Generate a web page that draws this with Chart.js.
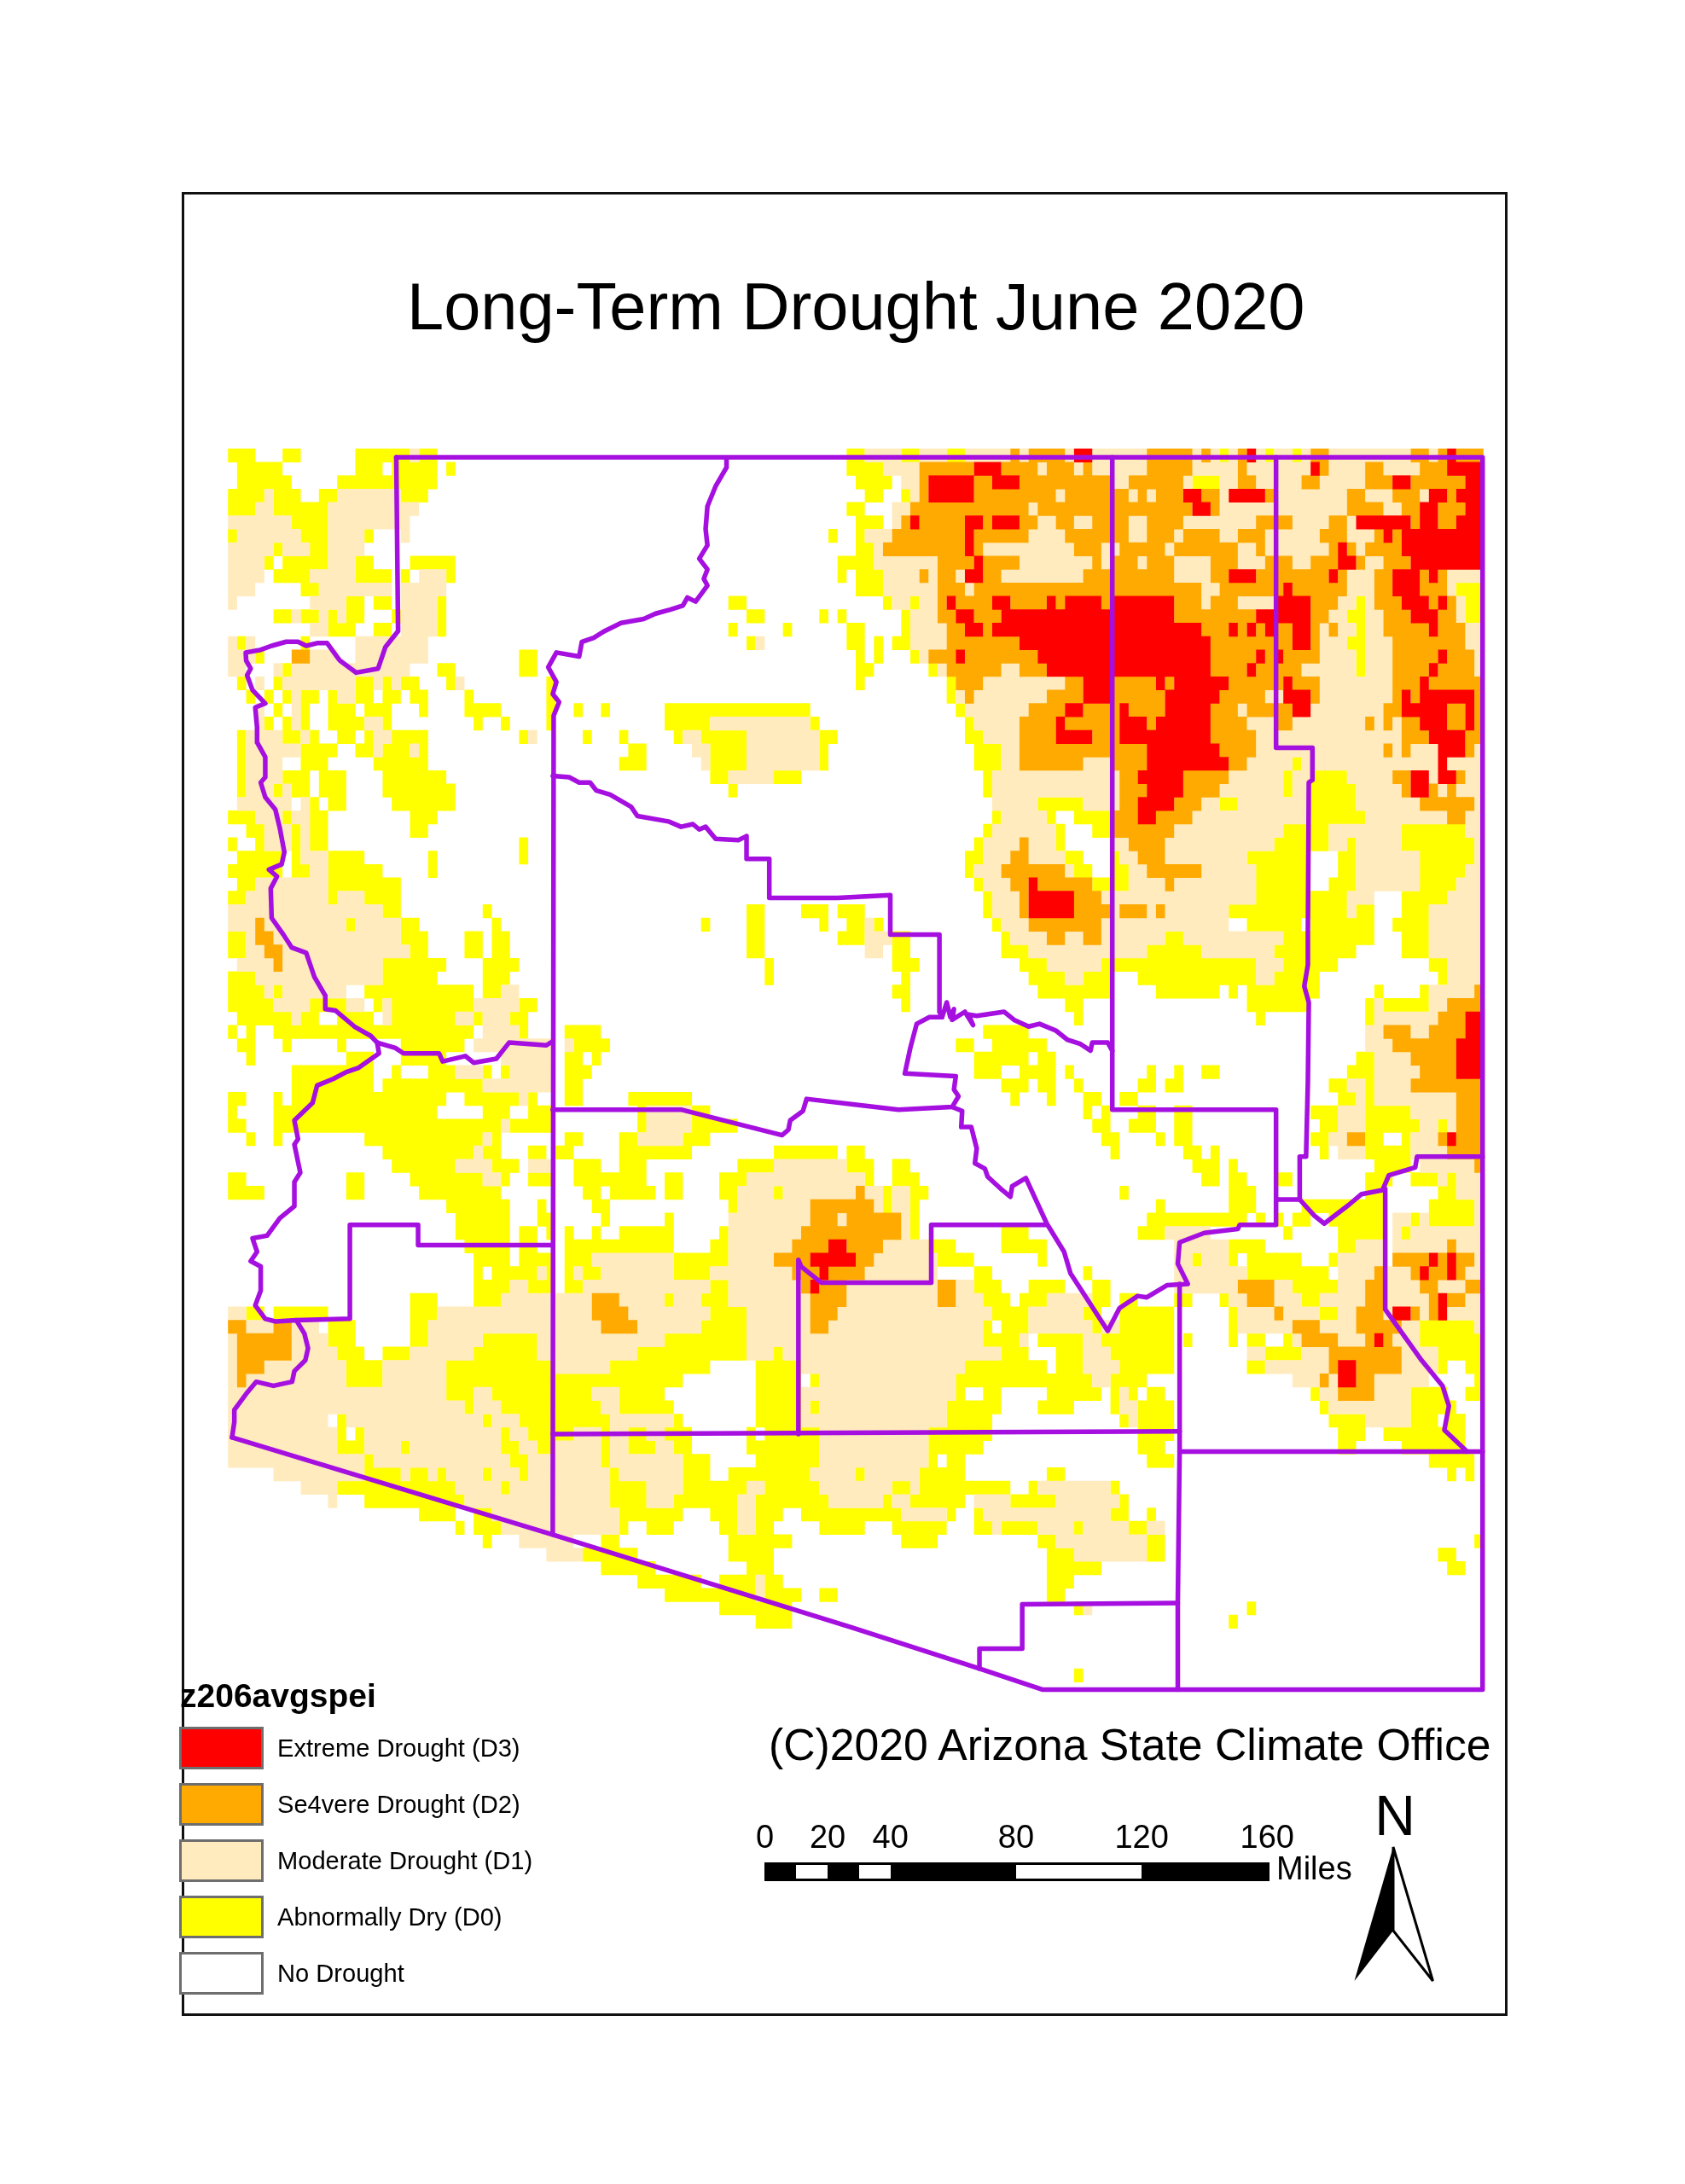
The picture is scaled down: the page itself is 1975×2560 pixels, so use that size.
<!DOCTYPE html>
<html>
<head>
<meta charset="utf-8">
<title>Long-Term Drought June 2020</title>
<script src="https://cdn.jsdelivr.net/npm/chart.js@4"></script>
<style>
    html, body { margin: 0; padding: 0; background: #fff; }
    #page { position: relative; width: 1975px; height: 2560px; overflow: hidden; font-family: "Liberation Sans", Arial, sans-serif; color: #000; }
    #map { position: absolute; left: 0; top: 0; }
    #frame { position: absolute; left: 213px; top: 225px; width: 1548px; height: 2132px; border: 3px solid #111; }
    .txt { position: absolute; white-space: nowrap; line-height: 1; }
    .box { position: absolute; box-sizing: border-box; }
    #arrow { position: absolute; left: 0; top: 0; }
</style>
</head>
<body>
<div id="page">
    <canvas id="map" width="1975" height="2560"></canvas>
    <div id="frame"></div>
    <svg id="arrow" width="1975" height="2560"></svg>
</div>
<script>
// raster runs per row: letter = class, a-b = grid columns, later runs overwrite earlier ones
const droughtRows = [
'Y0-3 Y6-8 Y14-20 M20-21 Y21-23 Y68-70 M70-74 Y74-76 M76-79 Y79-81 M81-86 S86-87 M87-88 S88-92 M92-93 X93-95 M95-101 S101-106 M106-107 S107-108 M108-109 Y109-110 M110-111 S111-112 X112-113 M113-114 Y114-115 M115-117 Y117-118 M118-119 S119-121 M121-130 S130-132 M132-133 S133-134 X134-135 S135-138',
'Y1-6 Y14-17 Y18-23 Y24-25 Y68-72 M72-76 S76-82 X82-85 S85-89 M89-90 S90-93 M93-94 S94-95 M95-101 S101-106 M106-111 S111-112 M112-119 X119-120 S120-121 M121-125 S125-127 M127-131 S131-134 X134-138',
'Y1-7 Y12-23 Y69-73 M74-76 S76-77 X77-82 S82-84 X84-87 S87-97 M97-99 S99-105 M105-106 Y106-109 M109-111 S111-113 M113-118 S118-120 M120-125 S125-128 X128-130 S130-136 X136-138',
'Y0-4 M4-5 Y5-8 Y10-12 M12-19 Y19-22 Y70-72 Y74-75 M75-76 S76-77 X77-82 S82-91 M91-92 S92-99 M99-100 S100-101 M101-102 S102-105 X105-107 S107-109 M109-110 X110-114 S114-115 M115-123 S123-125 M125-128 S128-131 M131-132 X132-134 S134-135 X135-138',
'Y0-3 M3-5 Y5-11 M11-21 Y68-70 M73-75 S75-88 M88-89 S89-106 X106-108 S108-109 M109-123 S123-127 M127-129 S129-131 X131-133 S133-136 X136-138',
'M0-7 Y7-11 M11-20 Y69-72 M73-74 S74-75 X75-76 S76-81 X81-83 S83-84 X84-87 S87-89 M89-91 S91-93 M93-95 S95-99 M99-101 S101-105 M105-113 S113-117 M117-121 S121-123 M123-124 X124-130 S130-131 X131-133 S133-135 X135-138',
'Y0-1 M1-8 Y8-11 M11-15 Y15-16 M19-20 Y66-67 Y69-70 M70-73 S73-81 X81-82 S82-88 M88-92 S92-99 M99-101 S101-104 M104-105 S105-109 M109-111 S111-114 M114-120 S120-123 M123-126 S126-127 X127-128 S128-129 X129-138',
'M0-5 Y5-6 M6-9 Y9-11 M11-15 Y69-71 M71-72 S72-81 X81-82 S82-83 M83-93 S93-96 M96-98 S98-103 M103-104 S104-111 M111-113 S113-114 M114-121 S121-122 X122-123 S123-124 M124-125 S125-129 X129-138',
'M0-4 Y4-5 Y6-11 M11-14 Y14-16 Y20-25 Y67-71 M71-78 S78-82 X82-83 S83-87 M87-95 S95-96 M96-97 S97-100 M100-101 S101-104 M104-108 S108-111 M111-114 S114-117 M117-119 S119-122 X122-124 S124-125 M125-127 S127-130 X130-138',
'M0-4 Y5-9 M9-14 Y14-18 Y19-20 M21-24 Y24-25 Y67-68 Y69-72 M72-76 S76-77 M77-78 S78-80 M80-81 X81-83 S83-85 M85-94 S94-104 M104-108 S108-110 X110-113 S113-121 X121-122 S122-123 M123-126 S126-128 X128-131 S131-132 X132-133 S133-134 M134-138',
'M0-3 Y8-10 M10-18 M19-24 Y69-72 M72-78 S78-81 M81-82 S82-107 M107-109 S109-116 X116-117 S117-123 M123-126 S126-128 X128-131 S131-134 M134-135 Y135-138',
'M0-1 M9-13 Y13-15 Y16-18 M19-23 Y23-24 Y55-57 Y72-73 M73-75 Y75-76 M76-78 S78-79 X79-80 S80-84 X84-86 S86-90 X90-91 S91-92 X92-96 S96-97 X97-104 S104-107 M107-108 S108-111 M111-115 X115-119 S119-122 M122-124 Y124-125 M125-126 S126-129 X129-132 S132-133 X133-134 S134-135 M135-136 Y136-138',
'Y5-7 M7-8 Y8-10 M10-11 Y11-12 M12-13 Y13-15 Y18-19 M19-23 Y23-24 Y57-59 Y65-66 Y67-68 Y74-75 M75-78 S78-80 X80-82 S82-85 X85-104 S104-113 X113-119 S119-121 M121-123 Y123-125 M125-127 S127-130 X130-133 S133-135 M135-136 Y136-138',
'M9-11 Y11-14 Y16-18 M19-23 Y23-24 Y55-56 Y61-62 Y68-70 Y74-75 M75-79 S79-81 X81-83 S83-84 X84-107 S107-110 X110-111 S111-112 X112-113 S113-114 X114-115 S115-117 X117-119 S119-120 M120-121 S121-122 M122-124 Y124-125 M125-127 S127-132 X132-133 S133-136 M136-138',
'M0-3 Y1-2 Y8-9 M14-22 Y57-58 M58-59 Y68-70 Y71-72 Y73-75 M75-79 S79-87 X87-108 S108-117 X117-119 S119-120 M120-123 Y123-125 M125-128 S128-136 M136-138',
'M0-3 Y3-4 S7-9 M9-12 M14-22 Y32-34 Y69-70 Y71-72 Y75-76 M76-77 S77-80 X80-81 S81-89 X89-108 S108-113 X113-114 S114-115 X115-116 S116-120 M120-124 Y124-125 M125-128 S128-133 X133-134 S134-137 M137-138',
'M0-2 M5-6 Y6-7 M7-20 Y23-25 Y32-34 Y69-71 Y77-78 M78-79 S79-85 M85-87 S87-90 X90-108 S108-112 X112-113 S113-118 M118-124 Y124-125 M125-128 S128-132 X132-133 S133-137 M137-138',
'Y1-2 M3-4 Y5-6 M6-14 Y14-16 M16-17 Y17-18 M18-19 Y19-21 Y24-25 M25-26 Y35-36 Y69-70 Y79-80 S80-83 M83-92 S92-94 X94-97 S97-102 X102-103 S103-104 X104-110 S110-116 X116-117 S117-120 M120-128 S128-131 X131-132 S132-138',
'Y2-3 Y4-5 Y6-7 M7-8 Y8-10 Y11-12 M12-14 Y14-16 Y17-19 Y20-22 Y26-27 Y35-36 Y79-80 M80-81 S81-82 M82-90 S90-94 X94-97 S97-103 X103-109 S109-114 M114-116 X116-119 S119-120 M120-128 S128-129 X129-130 S130-131 X131-137 S137-138',
'M3-4 Y5-6 M7-8 Y8-9 Y11-14 Y15-18 Y21-22 Y26-30 Y35-36 Y38-39 Y41-42 Y48-64 Y80-81 M81-88 S88-92 X92-94 S94-98 X98-99 S99-103 X103-108 S108-111 M111-112 S112-117 X117-119 M119-127 S127-129 X129-134 S134-136 X136-137 S137-138',
'M3-4 Y4-5 Y6-7 M7-8 Y8-9 Y11-15 M15-17 Y17-18 Y27-28 Y30-31 Y35-36 Y48-53 M53-64 Y64-65 Y81-82 M82-87 S87-91 X91-92 S92-98 X98-101 S101-102 X102-108 S108-112 M112-115 S115-117 M117-125 S125-126 M126-127 S127-128 M128-129 S129-131 X131-134 S134-136 X136-137 S137-138',
'Y1-2 M2-6 Y6-8 M8-9 Y9-10 Y12-14 Y15-16 M16-18 Y18-22 Y32-33 M33-34 Y39-40 Y43-44 Y49-50 M50-52 Y52-57 M57-65 Y65-67 Y81-83 M83-87 S87-91 X91-95 S95-98 X98-108 S108-113 M113-129 S129-132 X132-136 S136-138',
'Y1-2 M2-8 Y8-12 Y14-16 M16-17 Y17-20 M20-21 Y21-22 Y44-46 M51-53 Y53-57 M57-65 Y65-66 Y82-85 M85-87 S87-101 X101-109 S109-113 M113-127 S127-128 M128-129 S129-130 M130-133 X133-136 S136-137 M137-138',
'Y1-2 M2-6 Y8-11 Y16-22 Y43-46 M52-53 Y53-57 M57-65 Y65-66 Y82-85 M85-87 S87-94 M94-97 S97-101 X101-110 S110-112 M112-117 Y117-118 M118-133 X133-134 M134-138',
'Y1-2 M2-6 Y6-9 Y10-13 Y17-24 Y53-55 M55-60 Y60-63 Y83-84 M84-98 S98-100 X100-105 S105-110 M110-116 Y116-117 M117-119 Y119-123 M123-128 S128-130 X130-132 M132-133 X133-135 S135-136 M136-138',
'Y1-2 M2-5 Y5-6 M6-7 Y7-9 Y10-13 Y17-25 Y55-56 Y83-84 M84-98 S98-101 X101-105 S105-109 M109-116 Y116-117 M117-119 Y119-124 M124-129 S129-130 X130-132 S132-133 M133-134 S134-135 M135-138',
'M1-7 M8-9 Y9-10 Y11-13 Y18-25 M84-89 Y89-94 M94-98 S98-100 X100-104 S104-107 M107-109 Y109-111 M111-119 Y119-124 M124-131 S131-137 M137-138',
'Y0-3 M3-6 Y6-7 M7-9 Y9-11 Y20-23 Y84-85 M85-90 Y90-91 Y93-97 S97-100 X100-102 S102-106 M106-119 Y119-125 M125-134 S134-136 M136-138',
'Y2-4 M4-7 Y7-8 M8-9 Y9-11 Y20-22 Y83-84 M84-91 Y91-92 Y95-97 S97-104 M104-116 Y116-121 M121-129 Y129-136 M136-138',
'Y0-1 Y3-4 M4-7 Y7-8 M8-9 Y9-11 Y32-33 Y82-83 M83-87 S87-88 M88-91 Y91-92 M97-99 S99-103 M103-115 Y115-121 M121-123 Y123-124 M124-129 Y129-137 M137-138',
'Y1-6 Y7-8 M8-11 Y11-15 Y22-23 Y32-33 Y81-83 M83-86 S86-88 M88-92 Y92-94 Y97-98 M98-100 S100-103 M103-112 Y112-119 Y122-124 M124-131 Y131-137 M137-138',
'Y0-6 Y7-9 M9-11 Y11-17 Y22-23 Y81-82 M82-85 S85-92 M92-93 Y93-95 Y97-99 M99-101 S101-107 M107-113 Y113-119 Y122-124 M124-131 Y131-136 M136-138',
'Y1-3 M3-11 Y11-19 Y82-83 M83-86 S86-88 X88-89 S89-95 Y95-99 M99-103 S103-104 M104-113 Y113-119 Y121-124 M124-131 Y131-135 M135-138',
'Y0-2 M2-15 Y11-12 Y15-19 Y83-84 M84-87 S87-88 X88-93 S93-96 M96-113 Y113-123 M123-126 Y129-134 M134-138',
'M0-18 Y17-19 Y28-29 Y57-59 Y63-66 Y67-70 Y83-84 M84-87 S87-97 X88-93 M97-98 S98-101 M101-102 S102-103 M103-110 Y110-123 M123-124 Y124-126 Y129-132 M132-138',
'M0-19 Y13-14 S3-4 Y19-21 Y29-30 Y52-53 Y57-59 Y65-66 Y68-70 M70-71 Y71-72 Y84-85 M85-88 S88-96 M96-110 Y112-118 Y119-126 Y128-132 M132-138',
'Y0-2 M2-4 S3-5 M5-19 Y19-22 Y26-28 Y29-31 Y57-59 Y67-70 M70-73 Y73-75 Y85-86 M86-90 S90-92 M92-94 S94-96 M96-103 Y103-105 M105-116 Y116-126 Y129-132 M132-138',
'Y0-2 M2-4 S4-6 M6-20 Y20-22 Y26-28 Y29-31 Y57-59 M70-72 Y73-75 Y85-88 M88-101 Y101-107 M107-115 Y115-124 Y129-132 M132-138',
'M1-5 S5-6 M6-17 Y17-24 Y28-32 Y59-60 Y73-76 Y87-90 M90-96 Y96-113 M113-116 Y116-122 Y132-134 M134-138',
'Y0-3 M3-17 Y17-23 Y28-31 Y59-60 Y74-75 Y88-92 M92-94 Y94-97 Y100-113 M113-115 Y115-120 Y133-134 M134-138',
'Y0-4 M4-5 Y5-6 M6-13 Y15-27 Y28-30 M30-32 Y73-75 Y89-97 Y102-109 Y110-111 Y112-120 Y126-127 Y131-132 M132-137 S137-138',
'Y0-5 M5-9 Y9-13 M13-15 Y16-17 M17-18 Y18-27 M27-32 Y32-34 Y74-75 Y92-94 Y112-119 Y125-126 M126-127 Y127-132 M132-134 S134-138',
'Y1-7 M7-8 Y8-10 Y12-16 M17-18 Y18-25 M25-27 Y27-28 M28-31 Y31-33 Y93-94 Y113-114 Y125-126 M126-133 S133-136 X136-138',
'Y0-1 Y2-3 Y5-27 M28-32 Y32-33 Y37-41 Y83-88 M125-127 S127-130 M130-132 S132-136 X136-138',
'Y1-3 Y6-7 Y12-13 Y19-26 M27-36 M37-38 Y38-42 Y80-82 Y84-90 M125-128 S128-135 X135-138',
'Y2-3 Y13-16 Y19-24 M30-36 Y37-39 Y40-41 Y82-88 Y89-91 Y124-126 M126-130 S130-135 X135-138',
'Y7-16 Y18-19 Y22-25 M25-28 Y28-29 Y30-31 M31-36 Y37-40 Y82-85 Y87-91 Y92-93 Y101-102 Y104-105 Y107-109 Y123-126 M126-131 S131-135 X135-138',
'Y7-16 Y17-28 M28-36 Y37-39 Y85-88 Y89-91 Y93-94 Y100-102 Y103-105 Y121-123 M123-125 Y125-126 M126-130 S130-138',
'Y0-2 Y5-6 Y7-24 Y26-32 M32-33 Y33-34 Y37-39 Y44-51 Y86-87 Y90-91 Y94-96 Y98-100 Y122-124 M124-125 Y125-126 M126-135 S135-138',
'Y0-1 Y5-23 Y28-31 Y33-36 Y45-46 M46-51 Y51-53 Y94-95 Y96-97 Y100-102 Y104-106 Y119-122 M122-125 Y125-130 M130-135 S135-138',
'Y0-2 Y5-30 M30-31 Y31-36 Y45-46 M46-51 Y51-56 Y95-97 Y99-102 Y104-106 Y120-122 M122-125 Y125-131 M131-133 Y133-134 M134-135 S135-138',
'Y2-3 Y5-6 Y15-28 M28-29 Y29-30 Y37-39 Y43-45 M45-50 Y50-53 Y96-98 Y102-103 Y104-106 Y119-121 M121-123 S123-125 Y125-127 Y129-130 M130-133 S133-134 X134-135 S135-138',
'Y17-27 M27-28 Y28-30 Y33-35 Y36-38 Y43-51 Y60-67 Y68-70 Y97-98 Y105-107 Y108-109 Y120-121 M122-125 Y125-130 M130-134 S134-138',
'Y18-25 M25-29 Y29-32 M33-36 Y38-41 Y43-46 Y56-60 M60-68 Y68-71 Y73-75 Y106-109 Y110-111 Y126-130 M131-137 S137-138',
'Y0-2 Y13-15 Y20-28 M28-30 Y30-31 Y33-36 Y38-46 Y48-50 Y54-57 M57-70 Y70-71 Y73-76 Y107-109 Y110-112 Y115-117 Y125-128 Y130-133 M133-134 Y134-135 M135-138',
'Y0-4 Y13-15 Y21-30 Y39-41 Y42-47 Y48-50 Y54-56 M56-60 Y60-61 M61-69 S69-70 M70-72 Y72-73 M73-75 Y75-77 Y98-99 Y110-113 Y125-127 Y133-135 M135-138',
'Y24-31 Y34-35 Y40-42 Y55-56 M56-64 S64-71 M71-72 Y72-73 M73-75 Y75-76 Y102-103 Y110-113 Y118-127 Y132-137 M137-138',
'Y25-31 Y34-36 Y41-42 Y48-49 M55-64 S64-67 M67-68 S68-74 M74-75 Y75-76 Y101-112 Y113-114 Y115-116 Y117-119 Y121-127 M128-130 Y130-131 M131-132 Y132-137 M137-138',
'Y25-31 Y32-34 Y35-36 Y37-38 Y40-41 Y43-49 Y54-55 M55-63 S63-74 M74-75 Y75-76 Y85-88 Y100-103 M103-108 Y116-117 Y122-127 M128-129 Y129-130 M130-138',
'Y26-31 Y32-34 Y37-49 Y53-55 M55-62 S62-66 X66-68 S68-72 M72-77 Y77-80 Y85-90 M104-110 Y110-114 Y122-124 M124-127 M128-134 S134-135 M135-138',
'Y27-31 Y32-36 Y37-40 M40-49 Y49-55 M55-60 S60-64 X64-69 S69-71 M71-78 Y78-82 Y89-90 M104-106 Y106-107 M107-110 Y110-111 Y112-118 Y121-122 M122-127 S128-132 X132-133 S133-134 X134-135 S135-137 M137-138',
'Y27-28 Y29-34 M34-35 Y35-36 Y37-38 M38-39 Y39-41 M41-49 Y49-53 M53-62 S62-70 X65-66 M70-78 Y82-84 Y94-95 M104-112 Y112-121 M122-126 S126-127 M127-130 S130-136 X131-132 X134-135 M136-138',
'Y27-31 M31-33 Y33-36 Y37-39 M39-53 Y53-55 M55-63 S63-64 X64-65 S65-68 M68-78 S78-80 M80-82 Y82-85 Y88-92 Y95-97 M104-111 S111-115 M115-117 Y117-122 M122-125 S125-127 M127-131 S131-133 M133-136 S136-138',
'Y20-23 Y27-30 M30-48 S40-43 Y48-49 M49-52 Y52-55 M55-64 S64-68 M68-83 S78-80 Y83-86 Y87-90 M90-95 Y95-97 Y98-100 Y104-106 Y109-110 M110-112 S112-115 M115-118 Y118-120 M120-125 S125-127 M127-132 S132-133 X133-134 S134-136 M136-138',
'M0-2 Y2-4 Y5-11 Y20-23 M23-53 S40-44 Y53-57 M57-64 S64-67 M67-84 Y84-88 M88-94 Y94-96 Y98-104 Y110-111 M111-115 S115-116 M116-120 Y120-122 M122-124 S124-127 M127-128 X128-130 S130-131 M131-132 S132-133 X133-134 M134-138',
'M0-10 S0-2 S5-7 Y11-14 Y20-22 M22-52 S41-45 Y52-57 M57-64 S64-66 M66-83 Y83-84 Y85-88 M88-95 Y95-96 M96-98 Y98-104 Y110-111 M111-117 S117-120 M120-124 S124-129 M129-131 Y131-137 M137-138',
'M0-1 S1-7 M7-11 Y11-14 Y20-22 M22-28 Y28-34 M34-48 Y48-57 M57-83 Y83-87 M87-88 Y89-94 M94-96 Y96-104 Y105-106 Y110-111 Y112-114 Y116-117 M117-118 S118-122 M122-125 S125-128 X126-127 M128-131 Y131-138',
'M0-1 S1-7 M7-12 Y12-15 Y17-20 M20-27 Y27-34 M34-45 Y45-57 M57-60 Y60-61 M61-85 Y85-88 Y91-94 M94-97 Y97-104 M112-114 Y114-118 M118-121 S121-129 M129-133 Y133-138',
'M0-1 S1-4 M4-13 Y13-17 M17-24 Y24-36 M36-42 Y42-53 Y58-63 M63-81 Y81-90 Y91-94 M94-98 Y98-104 Y112-114 M114-121 S121-122 X122-124 S124-129 M129-133 Y133-134 Y136-138',
'M0-1 S1-2 M2-13 Y13-17 M17-24 Y24-50 Y58-63 Y64-65 M65-80 Y80-95 M95-97 Y97-101 M117-120 S120-121 M121-122 X122-124 S124-126 M126-132 Y137-138',
'M0-24 Y24-27 M27-29 Y29-40 M40-43 Y43-48 Y58-63 M63-80 Y80-81 Y83-85 Y90-96 Y97-98 M98-99 Y99-100 Y101-103 Y119-120 M120-122 S122-126 M126-130 Y130-134 Y136-138',
'M0-26 Y26-27 M27-30 Y30-41 M41-43 Y43-49 Y58-63 M63-64 Y64-65 M65-79 Y79-85 Y89-93 Y97-98 M98-100 Y100-104 Y120-121 M121-130 Y130-135',
'M0-11 M12-28 Y12-13 Y28-29 M29-32 Y32-42 M42-49 Y49-50 Y58-63 M63-79 Y79-84 Y98-99 M99-100 Y100-104 Y121-125 M125-130 Y130-133 Y134-136',
'M0-12 Y12-13 Y14-15 M15-30 Y30-31 M31-33 Y33-38 M38-41 Y41-42 M42-44 Y44-46 M46-48 Y48-51 Y57-58 Y59-65 M65-77 Y77-84 Y100-104 Y122-125 Y127-136',
'M0-12 Y12-15 M15-19 Y19-20 M20-30 Y30-32 M32-34 Y34-36 M36-41 Y41-42 M42-44 Y44-47 M47-49 Y49-51 Y57-65 M65-77 Y77-83 Y100-103 Y122-124 Y129-136',
'M0-15 Y15-16 M16-31 Y31-33 M33-41 Y41-42 M42-50 Y50-53 Y58-65 M65-77 Y77-78 Y79-81 Y101-104 Y132-137',
'M5-15 Y15-19 M19-20 Y20-22 M22-23 Y23-24 M24-28 Y28-29 M29-32 Y32-33 M33-42 Y42-43 M43-50 Y50-53 Y55-64 M64-69 Y69-70 M70-76 Y76-81 Y90-92 Y134-135 Y136-137',
'M8-12 Y12-25 M25-30 Y30-31 M31-42 Y42-46 M46-50 Y50-57 M57-59 Y59-65 M65-73 Y73-75 M75-76 Y76-86 Y88-89 M89-97 Y97-98',
'M11-12 Y15-26 M26-42 Y42-46 M46-49 Y49-56 M56-58 Y58-66 M66-72 Y72-73 M73-75 Y75-81 M82-86 Y86-91 M91-98 Y98-99',
'Y21-25 Y27-29 M29-43 Y43-50 Y53-56 M56-58 Y58-61 Y63-74 M74-79 Y79-80 Y82-83 M83-97 Y97-99 Y101-102',
'Y25-26 Y27-30 M30-43 Y43-44 Y46-49 Y54-56 M56-58 Y58-60 Y65-70 Y73-79 Y82-84 M84-85 Y85-89 M89-93 Y93-94 M94-99 Y99-101 M101-103',
'Y28-29 M32-38 Y41-43 Y55-62 Y74-78 Y89-91 M91-101 Y101-103 Y137-138',
'M35-39 Y39-45 Y55-60 Y90-93 M93-101 Y101-103 Y133-135',
'Y41-47 Y57-60 Y90-96 Y134-136',
'Y45-52 Y54-58 M58-59 Y59-61 Y90-93',
'Y48-58 M58-59 Y59-63 Y65-67 Y90-92',
'Y54-62 Y93-94 M94-95 Y112-113',
'Y58-62 Y110-111',
'',
'',
'',
'Y93-94'
];

const droughtClasses = ['Y', 'M', 'S', 'X'];
const droughtColors = { Y: '#ffff00', M: '#ffebbe', S: '#ffaa00', X: '#ff0000' };
const legendTitle = 'z206avgspei';
const legendLabels = ['Extreme Drought (D3)', 'Se4vere Drought (D2)', 'Moderate Drought (D1)', 'Abnormally Dry (D0)', 'No Drought'];
const legendColors = ['#ff0000', '#ffaa00', '#ffebbe', '#ffff00', '#ffffff'];
const scaleMiles = [0, 20, 40, 80, 120, 160];
const scaleWhiteSegments = [[10, 20], [30, 40], [80, 120]];

// county and state lines, [column, row] in the raster grid
const stateOutline = [[18.5,0.64],[137.9,0.64],[137.9,92.56],[89.5,92.56],[82.6,91],[68.7,87.95],[35.7,81],[0.45,73.75]];
const mohaveEast = [[18.5,0.64],[18.7,13.6],[17.3,14.8],[16.5,16.4],[14.1,16.7],[12.3,15.8],[10.9,14.5],[9.8,14.5],[8.6,14.7],[7.7,14.4],[6.4,14.4],[4.8,14.7],[3.6,15],[1.95,15.2],[2,15.8],[2.5,16.4],[2.1,16.9],[2.7,18],[4.1,19],[3,19.3],[3.2,20.8],[3.2,21.9],[4.1,23],[4.1,24.5],[3.6,24.9],[4.1,26],[5.2,26.9],[5.7,28.3],[6.2,30.1],[5.9,31],[4.5,31.4],[5.4,31.9],[4.7,32.8],[4.8,35],[6.1,36.25],[7,37.2],[8.6,37.6],[9.5,39.4],[10.7,40.8],[10.7,41.8],[11.8,41.9],[13.9,43.1],[15.7,43.8],[16.4,44.3],[18.4,44.7],[19.3,45.1],[23.2,45.1],[23.6,45.7],[26.1,45.3],[27,45.8],[29.5,45.5],[30.9,44.3],[35,44.5],[35.7,44.2]];
const laPazRiver = [[16.4,44.3],[16.6,45.1],[14.3,46.2],[13,46.5],[11.6,47],[9.8,47.5],[9.3,48.8],[7.3,50.1],[7.7,51.5],[7.3,51.9],[7.95,54],[7.3,54.7],[7.3,56.5],[5.7,57.4],[4.3,58.7],[2.7,58.9],[3.2,59.9],[2.5,60.6],[3.6,61],[3.6,62.8],[3,63.9],[4.1,64.9],[5.2,65.1],[7.5,65],[8.4,66],[8.8,67.1],[8.5,68],[7.3,68.8],[7.05,69.6],[5,69.9],[3.1,69.6],[2,70.5],[0.7,71.7],[0.7,72.6],[0.45,73.75]];
const laPazBox = [[7.5,65],[13.4,64.9],[13.4,57.9],[20.9,57.9],[20.9,59.4],[35.7,59.4]];
const coconinoWest = [[54.8,0.7],[54.8,1.4],[53.6,2.8],[52.7,4.3],[52.5,6],[52.7,7.2],[51.8,8.2],[52.7,9],[52.3,9.7],[52.7,10.2],[51.4,11.4],[50.5,11.1],[50,11.7],[48.6,12],[47,12.3],[45.7,12.7],[43.2,13],[41.4,13.6],[40.2,14.1],[38.9,14.4],[38.6,15.5],[36.1,15.2],[35.2,16.3],[36.1,17.4],[35.7,18.3],[36.4,18.9],[35.8,19.9],[35.7,81]];
const yavapaiSouth = [[35.7,24.4],[37.5,24.5],[38.6,24.9],[39.8,24.9],[40.5,25.5],[42,25.8],[44.3,26.7],[45,27.4],[48.4,27.8],[49.8,28.2],[51.1,28],[51.8,28.4],[52.5,28.2],[53.6,29.1],[56.1,29.2],[57,28.9],[57,30.6],[59.5,30.6],[59.5,33.5],[67,33.5],[72.8,33.3],[72.8,36.25],[78.2,36.25],[78.2,42],[78.5,42.4],[79,41.3],[79.4,42.4],[79.8,41.8],[79.6,42.6],[81,42],[81.9,43],[81.4,42.2],[82.3,42.3],[85.3,42],[86.4,42.6],[88,43.1],[89.2,42.9],[91,43.4],[92.3,44.1],[93.7,44.4],[94.8,44.9],[95,44.3],[96.7,44.3],[97.2,44.9]];
const maricopaNorth = [[78.5,42.4],[77.1,42.4],[75.7,42.9],[75,44.7],[74.4,46.6],[80,46.8],[79.8,47.8],[80.3,48.3],[79.6,49.1],[73.7,49.3],[68.7,48.9],[63.6,48.5],[63.2,49.4],[61.8,50.1],[61.6,50.8],[60.9,51.2],[49.8,49.3],[35.7,49.3]];
const gilaWest = [[79.6,49.1],[80.7,49.4],[80.6,50.6],[81.7,50.6],[82.3,52.2],[82.1,53.3],[83.2,53.7],[83.5,54.3],[85.1,55.3],[86,55.8],[86.2,55],[87.7,54.4],[90,57.8],[91.9,59.9],[92.6,61.5],[96.7,65.8],[98,64.1],[100,63.2],[101,63.3],[103.2,62.4],[105.5,62.3],[104.4,60.8],[104.6,59.2],[107.3,58.5],[111,58.2],[111.2,57.9],[115.2,57.9],[115.2,49.3],[97.2,49.3],[97.2,0.64]];
const navajoApache = [[115.2,0.64],[115.2,22.3],[119.2,22.3],[119.2,24.7],[118.8,24.9],[118.7,36],[118.7,38.5],[118.3,40.1],[118.8,41.3],[118.7,47.2],[118.5,52.8],[117.8,52.8],[117.8,56],[115.3,56]];
const grahamNorth = [[117.8,56],[119.4,57.2],[120.5,57.8],[123.2,56.4],[124.6,55.6],[126.9,55.3],[127.6,54.2],[130.5,53.6],[130.7,52.8],[137.9,52.8]];
const greenleeLine = [[127.2,55.2],[127.2,64.2],[131.2,68],[133.5,69.9],[134.2,71.4],[133.7,73.2],[136.2,74.8]];
const cochiseNorth = [[137.9,74.8],[104.6,74.8]];
const pimaEast = [[104.6,62.3],[104.6,74.8],[104.4,86.1],[104.4,92.56]];
const pimaNorth = [[35.7,73.5],[104.6,73.3]];
const pinalWest = [[62.7,73.5],[62.7,60.5],[63,61],[65.2,62.2],[77.3,62.2],[77.3,57.9],[90,57.9]];
const santaCruz = [[104.4,86.1],[87.3,86.2],[87.3,89.5],[82.6,89.5],[82.6,91]];
const boundaryLines = [stateOutline, mohaveEast, laPazRiver, laPazBox, coconinoWest, yavapaiSouth, maricopaNorth, gilaWest, navajoApache, grahamNorth, greenleeLine, cochiseNorth, pimaEast, pimaNorth, pinalWest, santaCruz];

function rowCells(rowText) {
    const cells = [];
    rowText.split(' ').forEach(token => {
        const m = token.match(/^([YMSX])(\d+)-(\d+)$/);
        if (!m) return;
        for (let c = Number(m[2]); c < Number(m[3]); c++) cells[c] = m[1];
    });
    return cells;
}

// each class becomes one thick broken line, one segment per run of cells
function classSegments(cls) {
    const points = [];
    droughtRows.forEach((rowText, r) => {
        const cells = rowCells(rowText);
        let start = -1;
        for (let c = 0; c <= cells.length; c++) {
            if (cells[c] === cls && start < 0) start = c;
            if (cells[c] !== cls && start >= 0) {
                points.push({ x: start, y: r + 0.5 }, { x: c, y: r + 0.5 }, { x: NaN, y: NaN });
                start = -1;
            }
        }
    });
    return points;
}

const rasterDatasets = droughtClasses.map((cls, i) => ({
    label: cls,
    data: classSegments(cls),
    showLine: true,
    borderColor: droughtColors[cls],
    borderWidth: 16.2,
    borderCapStyle: 'butt',
    borderJoinStyle: 'miter',
    pointRadius: 0,
    spanGaps: false,
    order: 10 - i
}));

const borderDatasets = boundaryLines.map(line => ({
    data: line.map(p => ({ x: p[0], y: p[1] })),
    showLine: true,
    borderColor: '#a50fe0',
    borderWidth: 5.5,
    borderCapStyle: 'round',
    borderJoinStyle: 'round',
    pointRadius: 0,
    order: 1
}));

new Chart(document.getElementById('map'), {
    type: 'scatter',
    data: { datasets: rasterDatasets.concat(borderDatasets) },
    options: {
        responsive: false,
        animation: false,
        layout: { padding: 0 },
        plugins: { legend: { display: false }, tooltip: { enabled: false } },
        scales: {
            x: { type: 'linear', display: false, min: -25.056, max: 160.15 },
            y: { type: 'linear', display: false, reverse: true, min: -33.473, max: 129.44 }
        }
    }
});

const page = document.getElementById('page');

function addText(text, x, baseline, size, extra) {
    const el = document.createElement('div');
    el.className = 'txt';
    el.textContent = text;
    el.style.left = x + 'px';
    el.style.top = (baseline - 0.8465 * size) + 'px';
    el.style.fontSize = size + 'px';
    if (extra) Object.assign(el.style, extra);
    page.appendChild(el);
    return el;
}

function addBox(x, y, w, h, fill, border) {
    const el = document.createElement('div');
    el.className = 'box';
    el.style.cssText = `left:${x}px;top:${y}px;width:${w}px;height:${h}px;background:${fill};` + (border ? `border:${border};` : '');
    page.appendChild(el);
}

addText('Long-Term Drought June 2020', 477, 387, 77.6);
addText('(C)2020 Arizona State Climate Office', 901, 2064, 51.7);

addText(legendTitle, 211, 2001, 39, { fontWeight: 'bold' });
legendLabels.forEach((label, i) => {
    addBox(210, 2024 + i * 66, 99, 50, legendColors[i], '3px solid #6e6e6e');
    addText(label, 325, 2060 + i * 66, 29.1);
});

// scale bar
const mileX = m => 896.5 + m * 3.68;
addBox(895.5, 2183, 592, 22, '#000');
scaleWhiteSegments.forEach(s => addBox(mileX(s[0]), 2186, mileX(s[1]) - mileX(s[0]), 16, '#fff'));
scaleMiles.forEach(m => {
    addText(String(m), mileX(m), 2166, 38, { transform: 'translateX(-50%)' });
});
addText('Miles', 1496, 2203, 38);
addText('N', 1635, 2151, 66, { transform: 'translateX(-50%)' });

// north arrow
document.getElementById('arrow').innerHTML =
    '<polygon points="1633,2165 1633,2263 1587.5,2322" fill="#000"/>' +
    '<polygon points="1633,2165 1679.5,2322 1633,2263" fill="#fff" stroke="#000" stroke-width="3"/>';
</script>
</body>
</html>
